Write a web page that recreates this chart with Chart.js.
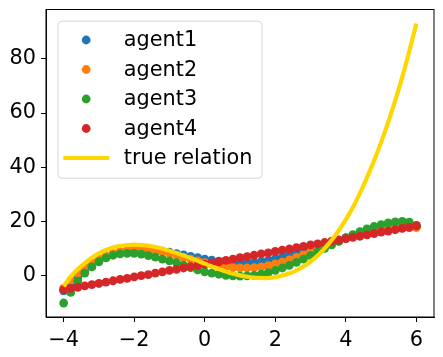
<!DOCTYPE html>
<html>
<head>
<meta charset="utf-8">
<script src="https://cdn.jsdelivr.net/npm/chart.js@4.4.1/dist/chart.umd.min.js"></script>
<style>
  html, body { margin: 0; padding: 0; background: #fff; }
</style>
</head>
<body>
<canvas id="chart" width="443" height="357"></canvas>
<script>
// x positions of the agents' points
const agentX = [-4, -3.8, -3.6, -3.4, -3.2, -3, -2.8, -2.6, -2.4, -2.2, -2,
  -1.8, -1.6, -1.4, -1.2, -1, -0.8, -0.6, -0.4, -0.2, 0,
  0.2, 0.4, 0.6, 0.8, 1, 1.2, 1.4, 1.6, 1.8, 2,
  2.2, 2.4, 2.6, 2.8, 3, 3.2, 3.4, 3.6, 3.8, 4,
  4.2, 4.4, 4.6, 4.8, 5, 5.2, 5.4, 5.6, 5.8, 6];

const agent1 = [-5.5, -3.0, -0.6, 1.6, 3.6, 5.5, 6.8, 7.8, 8.6, 9.1, 9.5,
  9.6, 9.6, 9.4, 9.1, 8.7, 8.2, 7.7, 7.2, 6.7, 6.2,
  5.8, 5.4, 5.1, 4.9, 4.8, 4.8, 5.0, 5.3, 5.8, 6.4,
  7.0, 7.7, 8.5, 9.3, 10.1, 10.9, 11.7, 12.5, 13.3, 14.1,
  14.8, 15.5, 16.1, 16.6, 17.1, 17.5, 17.8, 18.1, 18.3, 18.5];

const agent2 = [-4.5, -1.6, 1.0, 3.2, 5.0, 6.3, 7.4, 8.3, 9.0, 9.5, 9.8,
  9.9, 9.7, 9.4, 8.9, 8.3, 7.6, 6.9, 6.2, 5.5, 4.9,
  4.3, 3.8, 3.4, 3.1, 2.9, 2.9, 3.0, 3.3, 3.8, 4.4,
  5.1, 5.9, 6.8, 7.8, 8.8, 9.8, 10.8, 11.8, 12.8, 13.7,
  14.5, 15.2, 15.9, 16.4, 16.9, 17.2, 17.5, 17.7, 17.8, 17.8];

const agent3 = [-10.0, -6.1, -1.9, 1.0, 3.3, 5.2, 6.6, 7.6, 8.1, 8.3, 8.3,
  8.0, 7.5, 6.9, 6.2, 5.5, 4.9, 4.0, 3.0, 2.2, 1.5,
  1.0, 0.6, 0.2, 0.0, -0.1, 0.0, 0.2, 0.6, 1.2, 2.0,
  2.9, 3.9, 5.0, 6.2, 7.5, 8.8, 10.1, 11.4, 12.7, 14.0,
  15.2, 16.3, 17.3, 18.2, 18.9, 19.5, 19.9, 20.1, 19.8, 18.6];

const agent4 = [-5.1, -4.6, -4.2, -3.7, -3.2, -2.8, -2.3, -1.8, -1.3, -0.9, -0.4,
  0.1, 0.5, 1.0, 1.5, 2.0, 2.4, 2.9, 3.4, 3.8, 4.3,
  4.8, 5.2, 5.7, 6.2, 6.7, 7.1, 7.6, 8.1, 8.5, 9.0,
  9.5, 9.9, 10.4, 10.9, 11.4, 11.8, 12.3, 12.8, 13.2, 13.7,
  14.2, 14.6, 15.1, 15.6, 16.1, 16.5, 17.0, 17.5, 17.9, 18.4];

// true relation
const trueX = [-4, -3.75, -3.5, -3.25, -3, -2.75, -2.5, -2.25, -2,
  -1.75, -1.5, -1.25, -1, -0.75, -0.5, -0.25, 0,
  0.25, 0.5, 0.75, 1, 1.25, 1.5, 1.75, 2,
  2.25, 2.5, 2.75, 3, 3.25, 3.5, 3.75, 4,
  4.25, 4.5, 4.75, 5, 5.25, 5.5, 5.75, 6];
const trueY = [-3.8, 0.5, 3.6, 6.2, 8.3, 9.8, 10.8, 11.3, 11.5,
  11.3, 10.9, 10.2, 9.3, 8.2, 7.0, 5.8, 4.5,
  3.2, 2.1, 1.0, 0.2, -0.4, -0.75, -0.8, -0.5,
  0.3, 1.4, 3.1, 5.3, 8.1, 11.6, 15.8, 20.7,
  26.5, 33.3, 40.8, 49.2, 58.5, 68.8, 80.3, 93.0];

const labels = ["agent1", "agent2", "agent3", "agent4", "true relation"];
const colors = ["#1f77b4", "#ff7f0e", "#2ca02c", "#d62728", "#ffd700"];
const xTicks = [-4, -2, 0, 2, 4, 6];
const yTicks = [0, 20, 40, 60, 80];

const FONT = { family: "'DejaVu Sans', sans-serif", size: 20.8 };
const minus = v => String(v).replace("-", "\u2212");

function pts(xs, ys) {
  return xs.map((x, i) => ({ x: x, y: ys[i] }));
}

function scatterSet(i, ys) {
  return {
    label: labels[i],
    data: pts(agentX, ys),
    backgroundColor: colors[i],
    borderColor: colors[i],
    borderWidth: 0,
    pointRadius: 4.4,
    pointHoverRadius: 4.4,
    order: 4 - i
  };
}

// box round the plot area + matplotlib-like legend
const framePlugin = {
  id: "frame",
  afterDraw(chart) {
    const { ctx, chartArea: a } = chart;
    ctx.save();
    ctx.strokeStyle = "#000";
    ctx.lineWidth = 1;
    ctx.strokeRect(a.left, a.top, a.right - a.left, a.bottom - a.top);

    const bx = a.left + 11.5, by = a.top + 11.2, bw = 204, bh = 157;
    ctx.beginPath();
    ctx.roundRect(bx + 0.5, by + 0.5, bw, bh, 4);
    ctx.fillStyle = "rgba(255,255,255,0.8)";
    ctx.fill();
    ctx.strokeStyle = "#d6d6d6";
    ctx.stroke();

    ctx.font = FONT.size + "px " + FONT.family;
    ctx.textBaseline = "alphabetic";
    ctx.textAlign = "left";
    chart.data.datasets.forEach((ds, i) => {
      const ry = by + 19.3 + i * 29.5;
      if (ds.showLine) {
        ctx.strokeStyle = ds.borderColor;
        ctx.lineWidth = 4.2;
        ctx.beginPath();
        ctx.moveTo(bx + 5.8, ry);
        ctx.lineTo(bx + 51.8, ry);
        ctx.stroke();
      } else {
        ctx.fillStyle = ds.backgroundColor;
        ctx.beginPath();
        ctx.arc(bx + 28.7, ry, 4.4, 0, Math.PI * 2);
        ctx.fill();
      }
      ctx.fillStyle = "#000";
      ctx.fillText(ds.label, bx + 66.3, ry + 6);
    });
    ctx.restore();
  }
};

new Chart(document.getElementById("chart"), {
  type: "scatter",
  data: {
    datasets: [
      scatterSet(0, agent1),
      scatterSet(1, agent2),
      scatterSet(2, agent3),
      scatterSet(3, agent4),
      {
        label: labels[4],
        data: pts(trueX, trueY),
        showLine: true,
        borderColor: colors[4],
        backgroundColor: colors[4],
        borderWidth: 4.2,
        pointRadius: 0,
        cubicInterpolationMode: "monotone",
        order: 0
      }
    ]
  },
  options: {
    responsive: false,
    animation: false,
    devicePixelRatio: 1,
    layout: { padding: { left: 0, right: 9, top: 9.5, bottom: 0 } },
    plugins: { legend: { display: false }, tooltip: { enabled: false } },
    scales: {
      x: {
        type: "linear",
        min: -4.5,
        max: 6.5,
        afterBuildTicks: s => { s.ticks = xTicks.map(v => ({ value: v })); },
        afterFit: s => { s.height = 40; s.paddingLeft = 0; s.paddingRight = 0; },
        ticks: { font: FONT, color: "#000", padding: 6, maxRotation: 0, callback: minus },
        grid: { display: true, drawOnChartArea: false, drawTicks: true, tickLength: 5, color: "#000", lineWidth: 1 },
        border: { display: true, color: "#000", width: 1 }
      },
      y: {
        type: "linear",
        min: -15.15,
        max: 98.15,
        afterBuildTicks: s => { s.ticks = yTicks.map(v => ({ value: v })); },
        afterFit: s => { s.width = 46; s.paddingTop = 0; s.paddingBottom = 0; },
        ticks: { font: FONT, color: "#000", padding: 5, callback: minus },
        grid: { display: true, drawOnChartArea: false, drawTicks: true, tickLength: 5, color: "#000", lineWidth: 1 },
        border: { display: true, color: "#000", width: 1 }
      }
    }
  },
  plugins: [framePlugin]
});
</script>
</body>
</html>
